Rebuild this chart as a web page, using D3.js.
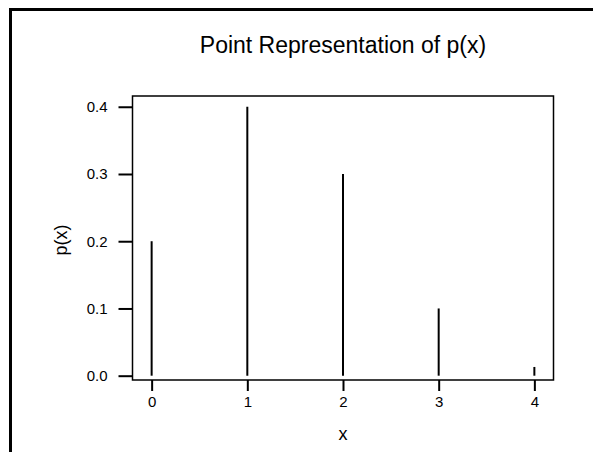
<!DOCTYPE html>
<html><head><meta charset="utf-8">
<script src="https://cdn.jsdelivr.net/npm/d3@7"></script>
<style>body{margin:0;background:#fff}svg{display:block}text{font-family:"Liberation Sans",Arial,sans-serif;fill:#000}</style>
</head><body>
<svg id="c" width="593" height="452"></svg>
<script>
const xValues = [0, 1, 2, 3, 4];
const pValues = [0.2, 0.4, 0.3, 0.1, 0.013];
const xTicks = [0, 1, 2, 3, 4];
const yTicks = [0.0, 0.1, 0.2, 0.3, 0.4];
const title = "Point Representation of p(x)";
const xLabel = "x";
const yLabel = "p(x)";

const svg = d3.select("#c");
const L = 132.5, R = 553.5, T = 96, B = 380;
const x = d3.scaleLinear().domain([-0.2, 4.2]).range([L, R]);
const y = d3.scaleLinear().domain([-0.0064, 0.416]).range([B, T]);

// outer frame
svg.append("path").attr("d", `M10.5,452V9.5H593`).attr("fill", "none").attr("stroke", "#000").attr("stroke-width", 3);

// title
svg.append("text").attr("x", (L + R) / 2).attr("y", 53).attr("text-anchor", "middle")
  .style("font-size", "23px").text(title);

// stems
svg.append("g").selectAll("line").data(xValues).join("line")
  .attr("x1", d => x(d)).attr("x2", d => x(d))
  .attr("y1", y(0)).attr("y2", (d, i) => y(pValues[i]))
  .attr("stroke", "#000").attr("stroke-width", 2);

// box
svg.append("rect").attr("x", L).attr("y", T).attr("width", R - L).attr("height", B - T)
  .attr("fill", "none").attr("stroke", "#000").attr("stroke-width", 1.5);

// y axis
const yAxis = d3.axisLeft(y).tickValues(yTicks).tickFormat(d3.format(".1f")).tickSize(14).tickPadding(11);
const gy = svg.append("g").attr("transform", `translate(${L},0)`).call(yAxis)
  .attr("font-size", 15).attr("font-family", "'Liberation Sans',Arial,sans-serif");
gy.select(".domain").remove();
gy.selectAll(".tick line").attr("stroke", "#000").attr("stroke-width", 2);
gy.selectAll(".tick text").style("font-size", "15px");

// x axis
const xAxis = d3.axisBottom(x).tickValues(xTicks).tickFormat(d3.format("d")).tickSize(11).tickPadding(5);
const gx = svg.append("g").attr("transform", `translate(0,${B})`).call(xAxis)
  .attr("font-size", 15).attr("font-family", "'Liberation Sans',Arial,sans-serif");
gx.select(".domain").remove();
gx.selectAll(".tick line").attr("stroke", "#000").attr("stroke-width", 2);
gx.selectAll(".tick text").style("font-size", "15px");

// axis labels
svg.append("text").attr("x", (L + R) / 2).attr("y", 440).attr("text-anchor", "middle")
  .style("font-size", "18px").text(xLabel);
svg.append("text").attr("transform", `translate(67,240) rotate(-90)`).attr("text-anchor", "middle")
  .style("font-size", "18px").text(yLabel);
</script>
</body></html>
